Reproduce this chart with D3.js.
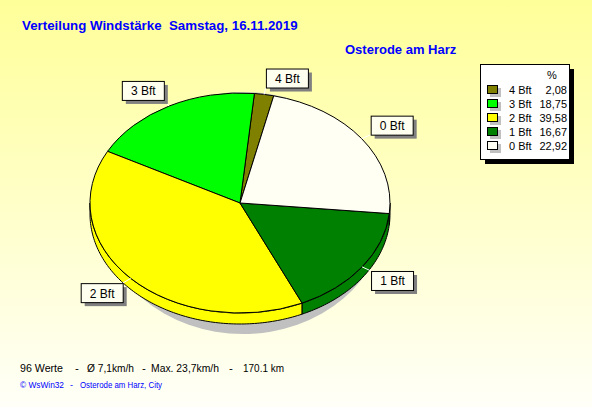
<!DOCTYPE html>
<html>
<head>
<meta charset="utf-8">
<script src="https://cdn.jsdelivr.net/npm/d3@7"></script>
<style>
  body { margin: 0; }
  text { font-family: "Liberation Sans", Arial, sans-serif; white-space: pre; }
</style>
</head>
<body>
<div class="chart"></div>
<script>
const width = 592
const height = 407

// Windstärke-Verteilung (Prozent von 96 Werten)
const categories = ["4 Bft", "3 Bft", "2 Bft", "1 Bft", "0 Bft"]
const percents = [2.08, 18.75, 39.58, 16.67, 22.92]
const colors = ["#808000", "#00ff00", "#ffff00", "#008000", "#fffff4"]

const title = "Verteilung Windstärke  Samstag, 16.11.2019"
const station = "Osterode am Harz"
const footerParts = ["96 Werte", "-", "Ø 7,1km/h", "-", "Max. 23,7km/h", "-", "170.1 km"]
const creditParts = ["© WsWin32", "-", "Osterode am Harz, City"]

const data = categories.map((c, i) => ({ cat: c, value: percents[i] }))

const color = d3.scaleOrdinal(categories, colors)
const fmt = d3.formatLocale({ decimal: ",", thousands: ".", grouping: [3], currency: ["", ""] }).format(".2f")

const svg = d3.select(".chart")
    .append("svg")
    .attr("width", width)
    .attr("height", height)

const defs = svg.append("defs")
const bg = defs.append("linearGradient")
    .attr("id", "bg")
    .attr("x1", "0%").attr("y1", "0%")
    .attr("x2", "0%").attr("y2", "100%")
bg.append("stop").attr("offset", "0%").attr("stop-color", "#ffff99")
bg.append("stop").attr("offset", "100%").attr("stop-color", "#fffff8")

svg.append("rect")
    .attr("width", width)
    .attr("height", height)
    .attr("fill", "url(#bg)")

svg.append("text")
    .attr("x", 22).attr("y", 30)
    .attr("fill", "#0000ff")
    .style("font-size", "13.3px")
    .style("font-weight", "bold")
    .text(title)

svg.append("text")
    .attr("x", 345).attr("y", 54)
    .attr("fill", "#0000ff")
    .style("font-size", "13px")
    .style("font-weight", "bold")
    .text(station)

// pie geometry
const cx = 240, cy = 203, rx = 150, ry = 110, depth = 11
const deg = Math.PI / 180
const start = 13 * deg

const pie = d3.pie()
    .sort(null)
    .value(d => d.value)
    .startAngle(start)
    .endAngle(start - 2 * Math.PI)

const arcs = pie(data)

const pt = (a, dy = 0) => [cx + rx * Math.sin(a), cy - ry * Math.cos(a) + dy]

// shadow
svg.append("ellipse")
    .attr("cx", cx + 3).attr("cy", cy + 10)
    .attr("rx", rx - 8).attr("ry", ry + 11)
    .attr("fill", "#c0c0c0")

// 3D side (front half only)
const line = d3.line()
const sides = svg.append("g")
arcs.forEach(d => {
    let lo = Math.min(d.startAngle, d.endAngle)
    let hi = Math.max(d.startAngle, d.endAngle)
    while (lo < 0) { lo += 2 * Math.PI; hi += 2 * Math.PI }
    const a0 = Math.max(lo, Math.PI / 2)
    const a1 = Math.min(hi, 3 * Math.PI / 2)
    if (a1 <= a0) return
    const n = Math.max(2, Math.ceil((a1 - a0) / (1 * deg)))
    const angles = d3.range(n + 1).map(i => a0 + (a1 - a0) * i / n)
    const pts = angles.map(a => pt(a)).concat(angles.slice().reverse().map(a => pt(a, depth)))
    sides.append("path")
        .attr("d", line(pts) + "Z")
        .attr("fill", color(d.data.cat))
        .attr("stroke", "#000")
        .attr("stroke-width", 1)
})

// top face
const arc = d3.arc().innerRadius(0).outerRadius(rx)
svg.append("g")
    .attr("transform", `translate(${cx}, ${cy}) scale(1, ${ry / rx})`)
    .selectAll("path")
    .data(arcs)
    .enter().append("path")
        .attr("d", arc)
        .attr("fill", d => color(d.data.cat))
        .attr("stroke", "#000")
        .attr("stroke-width", 1)
        .attr("vector-effect", "non-scaling-stroke")

// labels
const lrx = 161, lry = 117, bw = 42, bh = 19
const labels = svg.append("g")
arcs.forEach(d => {
    const m = (d.startAngle + d.endAngle) / 2
    const s = Math.sin(m), c = Math.cos(m)
    const ax = cx + lrx * s, ay = cy - lry * c
    const [ex, ey] = pt(m)
    labels.append("line")
        .attr("x1", ex).attr("y1", ey)
        .attr("x2", ax).attr("y2", ay)
        .attr("stroke", "#fff")
    const x = s > 0 ? ax : ax - bw
    const y = c > 0 ? ay - bh : ay
    labels.append("rect")
        .attr("x", x + 4).attr("y", y + 4)
        .attr("width", bw).attr("height", bh)
        .attr("fill", "#808080")
    labels.append("rect")
        .attr("x", x + 0.5).attr("y", y + 0.5)
        .attr("width", bw).attr("height", bh)
        .attr("fill", "#fffff0")
        .attr("stroke", "#000")
    labels.append("text")
        .attr("x", x + bw / 2 + 0.5).attr("y", y + 14.5)
        .attr("text-anchor", "middle")
        .style("font-size", "12px")
        .text(d.data.cat)
})

// legend
const legend = svg.append("g")
legend.append("rect")
    .attr("x", 485).attr("y", 69)
    .attr("width", 89).attr("height", 95)
    .attr("fill", "#000")
legend.append("rect")
    .attr("x", 480.5).attr("y", 64.5)
    .attr("width", 89).attr("height", 95)
    .attr("fill", "#fff")
    .attr("stroke", "#000")
legend.append("text")
    .attr("x", 552).attr("y", 79)
    .attr("text-anchor", "middle")
    .style("font-size", "11px")
    .text("%")

const rowY = d3.scalePoint()
    .domain(categories)
    .range([90, 146])

const rows = legend.selectAll("g.row")
    .data(data)
    .enter().append("g")
    .attr("class", "row")
    .attr("transform", d => `translate(0, ${rowY(d.cat)})`)

rows.append("rect")
    .attr("x", 490).attr("y", -2)
    .attr("width", 11).attr("height", 9)
    .attr("fill", "#c0c0c0")
rows.append("rect")
    .attr("x", 487.5).attr("y", -4.5)
    .attr("width", 10).attr("height", 8)
    .attr("fill", d => color(d.cat))
    .attr("stroke", "#000")
rows.append("text")
    .attr("x", 509).attr("y", 4)
    .style("font-size", "11px")
    .text(d => d.cat)
rows.append("text")
    .attr("x", 567).attr("y", 4)
    .attr("text-anchor", "end")
    .style("font-size", "11px")
    .text(d => fmt(d.value))

// footer (placed like the WsWin32 text layout)
const footerX = [20, 75, 87, 142, 151, 229, 243]
const footerW = [43, 0, 47, 0, 68, 0, 41]
svg.append("g").selectAll("text")
    .data(footerParts)
    .enter().append("text")
        .attr("x", (d, i) => footerX[i])
        .attr("y", 372)
        .attr("textLength", (d, i) => footerW[i] || null)
        .attr("lengthAdjust", "spacingAndGlyphs")
        .style("font-size", "11.5px")
        .text(d => d)

const creditX = [20, 70, 80]
const creditW = [44, 0, 82]
svg.append("g").selectAll("text")
    .data(creditParts)
    .enter().append("text")
        .attr("x", (d, i) => creditX[i])
        .attr("y", 388)
        .attr("textLength", (d, i) => creditW[i] || null)
        .attr("lengthAdjust", "spacingAndGlyphs")
        .attr("fill", "#0000ff")
        .style("font-size", "9px")
        .text(d => d)
</script>
</body>
</html>
